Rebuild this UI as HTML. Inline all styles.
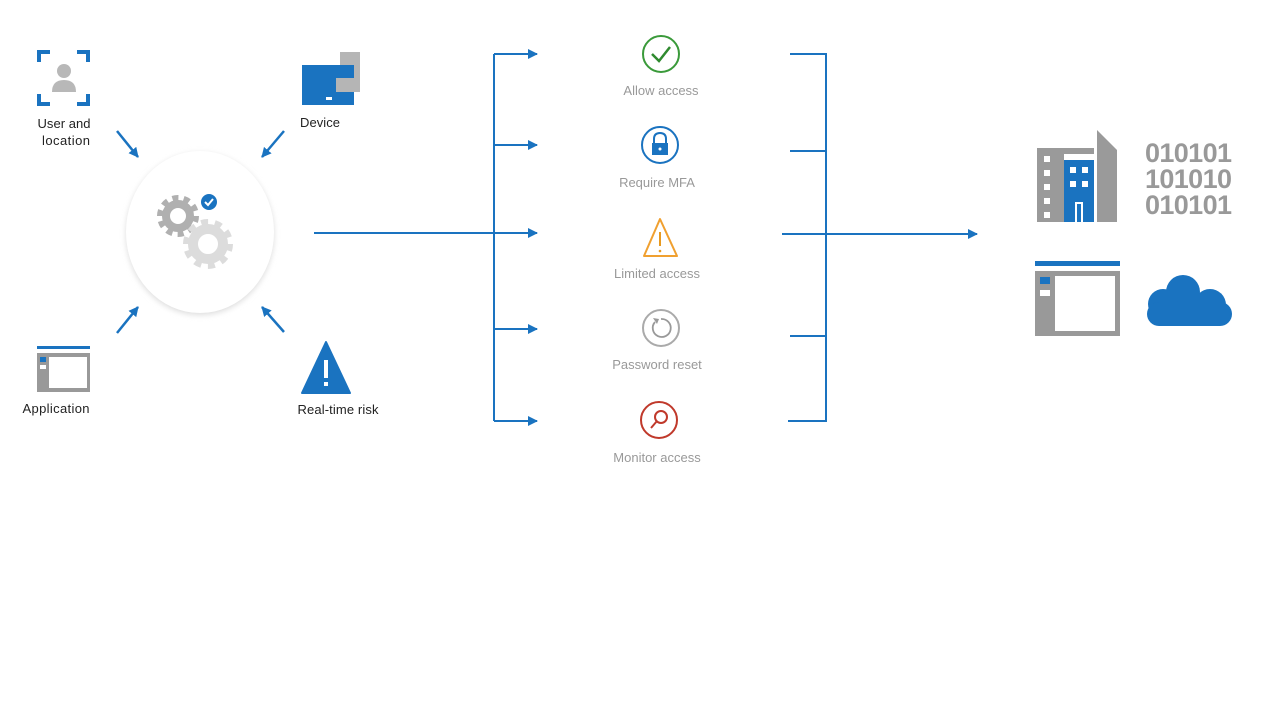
<!DOCTYPE html>
<html><head><meta charset="utf-8"><style>
html,body{margin:0;padding:0;background:#fff;}
svg{display:block;font-family:"Liberation Sans",sans-serif;}
</style></head><body>
<svg width="1280" height="720" viewBox="0 0 1280 720" xmlns="http://www.w3.org/2000/svg">
<defs>
<marker id="ah" markerWidth="10" markerHeight="10" refX="9" refY="5" orient="auto" markerUnits="userSpaceOnUse">
<path d="M0,0 L10,5 L0,10 Z" fill="#1a73c0"/></marker>
<filter id="sh" x="-20%" y="-20%" width="140%" height="140%"><feGaussianBlur stdDeviation="3"/></filter>
</defs>
<rect width="1280" height="720" fill="#fff"/>

<!-- user icon -->
<g stroke="#1a73c0" stroke-width="4" fill="none">
<path d="M39,62 V52 H50"/><path d="M77,52 H88 V62"/><path d="M39,94 V104 H50"/><path d="M77,104 H88 V94"/>
</g>
<circle cx="64" cy="71" r="7" fill="#b8b8b8"/>
<path d="M52,92 Q52,80 64,80 Q76,80 76,92 Z" fill="#b8b8b8"/>
<text x="64" y="128" font-size="13" text-anchor="middle" fill="#222" textLength="53">User and</text>
<text x="66" y="145" font-size="13" text-anchor="middle" fill="#222" textLength="48">location</text>

<!-- device -->
<rect x="340" y="52" width="20" height="38" fill="#b5b5b5"/>
<rect x="302" y="65" width="52" height="40" fill="#1a73c0"/>
<rect x="336" y="78" width="24" height="14" fill="#b5b5b5"/>
<rect x="326" y="97" width="6" height="3" fill="#fff"/>
<text x="320" y="127" font-size="13" text-anchor="middle" fill="#222" textLength="40">Device</text>

<!-- application -->
<rect x="37" y="346" width="53" height="3" fill="#1a73c0"/>
<rect x="37" y="353" width="53" height="39" fill="#999"/>
<rect x="49" y="357" width="38" height="31" fill="#fff"/>
<rect x="40" y="357" width="6" height="5" fill="#1a73c0"/>
<rect x="40" y="365" width="6" height="4" fill="#fff"/>
<text x="56" y="413" font-size="13" text-anchor="middle" fill="#222" textLength="67">Application</text>

<!-- risk -->
<path d="M326,342 L350,393 L302,393 Z" fill="#1a73c0" stroke="#1a73c0" stroke-width="2" stroke-linejoin="round"/>
<rect x="324" y="360" width="4" height="18" fill="#fff"/><rect x="324" y="382" width="4" height="4" fill="#fff"/>
<text x="338" y="414" font-size="13" text-anchor="middle" fill="#222" textLength="81">Real-time risk</text>

<!-- arrows to circle -->
<g stroke="#1a73c0" stroke-width="2.5" marker-end="url(#ah)">
<line x1="117" y1="131" x2="138" y2="157"/>
<line x1="284" y1="131" x2="262" y2="157"/>
<line x1="117" y1="333" x2="138" y2="307"/>
<line x1="284" y1="332" x2="262" y2="307"/>
</g>

<!-- center circle -->
<ellipse cx="200" cy="234" rx="74" ry="81" fill="#ddd" filter="url(#sh)"/>
<ellipse cx="200" cy="232" rx="74" ry="81" fill="#fff"/>
<circle cx="178" cy="216" r="12" fill="none" stroke="#b0b0b0" stroke-width="8"/>
<circle cx="178" cy="216" r="18" fill="none" stroke="#b0b0b0" stroke-width="6" stroke-dasharray="6 5.3"/>
<circle cx="208" cy="244" r="15" fill="none" stroke="#dcdcdc" stroke-width="10"/>
<circle cx="208" cy="244" r="22" fill="none" stroke="#dcdcdc" stroke-width="6" stroke-dasharray="7 6.8"/>
<circle cx="209" cy="202" r="8" fill="#1a73c0"/>
<path d="M205,202 L208,205 L213,199" stroke="#fff" stroke-width="2" fill="none"/>

<!-- connectors -->
<g stroke="#1a73c0" stroke-width="2" fill="none">
<line x1="314" y1="233" x2="494" y2="233"/>
<line x1="494" y1="54" x2="494" y2="421"/>
<path d="M790,54 H826 V421 H788"/>
<line x1="790" y1="151" x2="826" y2="151"/>
<line x1="790" y1="336" x2="826" y2="336"/>
<line x1="782" y1="234" x2="977" y2="234" marker-end="url(#ah)"/>
<g marker-end="url(#ah)">
<line x1="494" y1="54" x2="537" y2="54"/>
<line x1="494" y1="145" x2="537" y2="145"/>
<line x1="494" y1="233" x2="537" y2="233"/>
<line x1="494" y1="329" x2="537" y2="329"/>
<line x1="494" y1="421" x2="537" y2="421"/>
</g>
</g>

<!-- outcomes -->
<circle cx="661" cy="54" r="18" fill="none" stroke="#3a9a3a" stroke-width="2"/>
<path d="M652,54 L659,61 L670,47" stroke="#2f8a2f" stroke-width="2.5" fill="none"/>
<text x="661" y="95" font-size="13" text-anchor="middle" fill="#999">Allow access</text>

<circle cx="660" cy="145" r="18" fill="none" stroke="#1a73c0" stroke-width="2"/>
<path d="M654,144 V139 Q654,133 660,133 Q666,133 666,139 V144" stroke="#1a73c0" stroke-width="2" fill="none"/>
<rect x="652" y="143" width="16" height="12" fill="#1a73c0"/>
<circle cx="660" cy="149" r="1.5" fill="#fff"/>
<text x="657" y="187" font-size="13" text-anchor="middle" fill="#999">Require MFA</text>

<path d="M660,219 L677,256 L644,256 Z" fill="none" stroke="#f0a030" stroke-width="2" stroke-linejoin="round"/>
<line x1="660" y1="232" x2="660" y2="246" stroke="#e89a20" stroke-width="2"/>
<circle cx="660" cy="251" r="1.3" fill="#e89a20"/>
<text x="657" y="278" font-size="13" text-anchor="middle" fill="#999">Limited access</text>

<circle cx="661" cy="328" r="18" fill="none" stroke="#aaa" stroke-width="2"/>
<path d="M655,322 A9,9 0 1 0 661,319" stroke="#999" stroke-width="1.8" fill="none"/>
<path d="M653,318 L657,324 L659,319 Z" fill="#999"/>
<text x="657" y="369" font-size="13" text-anchor="middle" fill="#999">Password reset</text>

<circle cx="659" cy="420" r="18" fill="none" stroke="#c0392b" stroke-width="2"/>
<circle cx="661" cy="417" r="6" fill="none" stroke="#c0392b" stroke-width="2"/>
<line x1="657" y1="421" x2="651" y2="428" stroke="#c0392b" stroke-width="2"/>
<text x="657" y="462" font-size="13" text-anchor="middle" fill="#999">Monitor access</text>

<!-- right resources -->
<path d="M1097,130 L1117,150 V222 H1097 Z" fill="#9a9a9a"/>
<rect x="1037" y="148" width="27" height="74" fill="#9a9a9a"/>
<rect x="1064" y="148" width="30" height="6" fill="#9a9a9a"/>
<g fill="#fff"><rect x="1044" y="156" width="6" height="6"/><rect x="1044" y="170" width="6" height="6"/><rect x="1044" y="184" width="6" height="6"/><rect x="1044" y="198" width="6" height="6"/><rect x="1044" y="212" width="6" height="6"/></g>
<rect x="1064" y="160" width="30" height="62" fill="#1a73c0"/>
<g fill="#fff"><rect x="1070" y="167" width="6" height="6"/><rect x="1082" y="167" width="6" height="6"/><rect x="1070" y="181" width="6" height="6"/><rect x="1082" y="181" width="6" height="6"/><rect x="1075" y="202" width="8" height="20"/></g>
<rect x="1077" y="204" width="4" height="18" fill="#1a73c0"/>
<g font-size="27" font-weight="bold" fill="#999">
<text x="1145" y="162" textLength="87">010101</text><text x="1145" y="188" textLength="87">101010</text><text x="1145" y="214" textLength="87">010101</text></g>
<rect x="1035" y="261" width="85" height="5" fill="#1a73c0"/>
<rect x="1035" y="271" width="85" height="65" fill="#999"/>
<rect x="1055" y="276" width="60" height="55" fill="#fff"/>
<rect x="1040" y="277" width="10" height="7" fill="#1a73c0"/>
<rect x="1040" y="290" width="10" height="6" fill="#fff"/>
<g fill="#1a73c0">
<circle cx="1183" cy="292" r="17"/><circle cx="1163" cy="304" r="15"/><circle cx="1210" cy="305" r="16"/>
<rect x="1147" y="302" width="85" height="24" rx="12"/>
</g>
</svg>
</body></html>
